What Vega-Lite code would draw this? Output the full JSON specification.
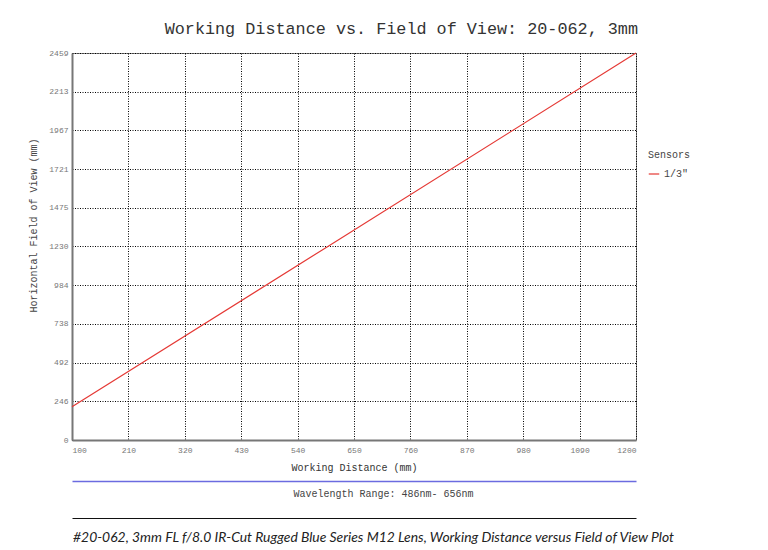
{
  "$schema": "https://vega.github.io/schema/vega-lite/v6.json",
  "width": 564,
  "height": 387,
  "autosize": {"type": "none"},
  "padding": {"left": 72, "top": 53, "right": 132, "bottom": 110},
  "background": "white",
  "title": {
    "text": "Working Distance vs. Field of View: 20-062, 3mm",
    "anchor": "end",
    "frame": "group",
    "font": "Liberation Mono",
    "fontSize": 16.8,
    "fontWeight": "normal",
    "color": "#333333",
    "baseline": "bottom",
    "offset": 16,
    "dy": 22,
    "dx": 2
  },
  "data": {
    "values": [
      {"wd": 100, "fov": 211, "sensor": "1/3\""},
      {"wd": 599, "fov": 1230, "sensor": "1/3\""},
      {"wd": 1200, "fov": 2459, "sensor": "1/3\""}
    ]
  },
  "layer": [
    {
      "mark": {"type": "line", "strokeWidth": 1.2},
      "encoding": {
        "x": {
          "field": "wd",
          "type": "quantitative",
          "scale": {"domain": [100, 1200], "nice": false, "zero": false},
          "axis": {
            "orient": "bottom",
            "values": [100, 210, 320, 430, 540, 650, 760, 870, 980, 1090, 1200],
            "tickCount": 20,
            "format": "d",
            "labelOverlap": false,
            "title": "Working Distance (mm)",
            "titleFont": "Liberation Mono",
            "titleFontSize": 10,
            "titleFontWeight": "normal",
            "titleColor": "#333333",
            "titlePadding": 8,
            "labelFont": "Liberation Mono",
            "labelFontSize": 8,
            "labelColor": "#777777",
            "labelPadding": 6,
            "ticks": false,
            "domainColor": "#777777",
            "domainWidth": 2,
            "grid": true,
            "gridColor": "#000000",
            "gridDash": [1, 1.5],
            "gridWidth": 1
          }
        },
        "y": {
          "field": "fov",
          "type": "quantitative",
          "scale": {"domain": [0, 2459], "nice": false},
          "axis": {
            "values": [0, 246, 492, 738, 984, 1230, 1475, 1721, 1967, 2213, 2459],
            "tickCount": 20,
            "format": "d",
            "labelOverlap": false,
            "title": "Horizontal Field of View (mm)",
            "titleFont": "Liberation Mono",
            "titleFontSize": 10,
            "titleFontWeight": "normal",
            "titleColor": "#444444",
            "titlePadding": 10,
            "titleY": 172,
            "labelFont": "Liberation Mono",
            "labelFontSize": 8,
            "labelColor": "#777777",
            "labelPadding": 4,
            "ticks": false,
            "domainColor": "#777777",
            "domainWidth": 2,
            "grid": true,
            "gridColor": "#000000",
            "gridDash": [1, 1.5],
            "gridWidth": 1
          }
        },
        "color": {
          "field": "sensor",
          "type": "nominal",
          "scale": {"range": ["#e53935"]},
          "legend": {
            "title": "Sensors",
            "orient": "none",
            "legendX": 576,
            "legendY": 97,
            "symbolType": "stroke",
            "symbolSize": 110,
            "symbolStrokeWidth": 1.2,
            "titleFont": "Liberation Mono",
            "titleFontSize": 10,
            "titleFontWeight": "normal",
            "titleColor": "#444444",
            "titlePadding": 8,
            "labelFont": "Liberation Mono",
            "labelFontSize": 10,
            "labelColor": "#444444"
          }
        }
      }
    },
    {
      "mark": {"type": "line", "opacity": 0},
      "encoding": {
        "x": {
          "field": "wd",
          "type": "quantitative",
          "scale": {"domain": [100, 1200], "nice": false, "zero": false},
          "axis": {
            "orient": "bottom",
            "offset": 41,
            "labels": false,
            "ticks": false,
            "grid": false,
            "domainColor": "#6b6be0",
            "domainWidth": 1.5,
            "title": "Wavelength Range:  486nm- 656nm",
            "titleFont": "Liberation Mono",
            "titleFontSize": 10,
            "titleFontWeight": "normal",
            "titleColor": "#444444",
            "titlePadding": 7,
            "titleX": 311
          }
        },
        "y": {"field": "fov", "type": "quantitative", "title": "Horizontal Field of View (mm)"}
      }
    },
    {
      "mark": {"type": "line", "opacity": 0},
      "encoding": {
        "x": {
          "field": "wd",
          "type": "quantitative",
          "scale": {"domain": [100, 1200], "nice": false, "zero": false},
          "axis": {
            "orient": "bottom",
            "offset": 78,
            "labels": false,
            "ticks": false,
            "grid": false,
            "domainColor": "#111111",
            "domainWidth": 1,
            "title": "#20-062, 3mm FL f/8.0 IR-Cut Rugged Blue Series M12 Lens, Working Distance versus Field of View Plot",
            "titleFont": "Lato",
            "titleFontStyle": "italic",
            "titleFontSize": 13.9,
            "titleFontWeight": "normal",
            "titleColor": "#222222",
            "titlePadding": 12,
            "titleX": 301
          }
        },
        "y": {"field": "fov", "type": "quantitative", "title": "Horizontal Field of View (mm)"}
      }
    }
  ],
  "resolve": {"scale": {"x": "independent"}, "axis": {"x": "independent"}},
  "config": {
    "font": "Liberation Mono",
    "view": {"stroke": "#888888", "strokeWidth": 1}
  }
}
